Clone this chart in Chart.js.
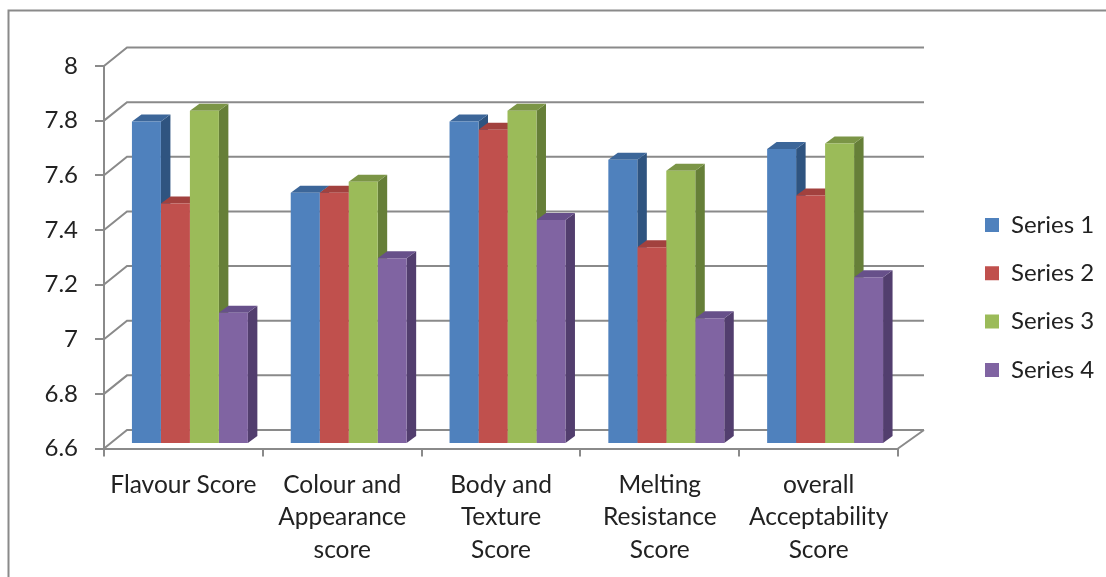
<!DOCTYPE html>
<html>
<head>
<meta charset="utf-8">
<title>Scores</title>
<script src="https://cdn.jsdelivr.net/npm/chart.js@4"></script>
<style>
  html, body { margin: 0; padding: 0; background: #fff; overflow: hidden; }
  canvas { display: block; }
</style>
</head>
<body>
<canvas id="chart" width="1106" height="577"></canvas>
<script>
const categories = [
  ['Flavour Score'],
  ['Colour and', 'Appearance', 'score'],
  ['Body and', 'Texture', 'Score'],
  ['Melting', 'Resistance', 'Score'],
  ['overall', 'Acceptability', 'Score']
];
const series1 = [7.78, 7.52, 7.78, 7.64, 7.68];
const series2 = [7.48, 7.52, 7.75, 7.32, 7.51];
const series3 = [7.82, 7.56, 7.82, 7.60, 7.70];
const series4 = [7.08, 7.28, 7.42, 7.06, 7.21];
const names = ['Series 1', 'Series 2', 'Series 3', 'Series 4'];
const values = [series1, series2, series3, series4];
const axisMin = 6.6, axisMax = 8, axisStep = 0.2;

const front = ['#4f81bd', '#c0504d', '#9bbb59', '#8064a2'];
const side  = ['#2f5480', '#8a3533', '#667f38', '#523e6e'];
const top3d = ['#3c6699', '#a2413e', '#7b9546', '#67508a'];

const gridColor = '#8a8a8a';
const textColor = '#222';
const font = 'Lato, Carlito, sans-serif';

// depth of the box behind the axes, and where the bars stand inside it
const wall = { x: 23, y: -18.5 };
const barShift = { x: 6.5, y: -4.5 };
const barDepth = { x: 9.5, y: -7 };

function poly(ctx, pts, color) {
  ctx.fillStyle = color;
  ctx.beginPath();
  pts.forEach((p, i) => i ? ctx.lineTo(p[0], p[1]) : ctx.moveTo(p[0], p[1]));
  ctx.closePath();
  ctx.fill();
}

const box3d = {
  id: 'box3d',
  beforeDraw(chart) {
    // outer frame, runs off the right and bottom of the picture
    const ctx = chart.ctx;
    ctx.save();
    ctx.strokeStyle = gridColor;
    ctx.lineWidth = 2;
    ctx.beginPath();
    ctx.moveTo(8.5, 577);
    ctx.lineTo(8.5, 10.5);
    ctx.lineTo(1106, 10.5);
    ctx.stroke();
    ctx.restore();
  },
  afterLayout(chart) {
    // legend sits in the gap right of the plot
    const lg = chart.legend;
    lg.left = 985 - lg.options.labels.padding;
    lg.right = lg.left + lg.width;
    lg.top = 188.7;
    lg.bottom = lg.top + lg.height;
  },
  beforeDatasetsDraw(chart) {
    const ctx = chart.ctx, a = chart.chartArea, y = chart.scales.y;
    ctx.save();
    ctx.strokeStyle = gridColor;
    ctx.lineWidth = 2;
    ctx.beginPath();
    y.ticks.forEach((t, i) => {
      const py = y.getPixelForTick(i);
      ctx.moveTo(a.left, py);
      ctx.lineTo(a.left + wall.x, py + wall.y);
      ctx.lineTo(a.right + wall.x + 3, py + wall.y);
    });
    // floor right edge
    ctx.moveTo(a.right, a.bottom);
    ctx.lineTo(a.right + wall.x + 3, a.bottom + wall.y);
    ctx.stroke();
    ctx.restore();

    // bars stand inside the box, so everything below is shifted
    ctx.save();
    ctx.translate(barShift.x, barShift.y);
    const metas = chart.getSortedVisibleDatasetMetas();
    categories.forEach((c, i) => {
      metas.forEach((m, s) => {
        const b = m.data[i];
        const l = b.x - b.width / 2, r = b.x + b.width / 2;
        const dx = barDepth.x, dy = barDepth.y;
        poly(ctx, [[r, b.y], [r + dx, b.y + dy], [r + dx, b.base + dy], [r, b.base]], side[s]);
        poly(ctx, [[l, b.y], [l + dx, b.y + dy], [r + dx, b.y + dy], [r, b.y]], top3d[s]);
      });
    });
  },
  afterDatasetsDraw(chart) {
    chart.ctx.restore();
  }
};

new Chart(document.getElementById('chart'), {
  type: 'bar',
  data: {
    labels: categories,
    datasets: names.map((n, i) => ({
      label: n,
      data: values[i],
      base: axisMin,
      backgroundColor: front[i],
      borderWidth: 0,
      categoryPercentage: 0.73,
      barPercentage: 1,
      clip: false
    }))
  },
  plugins: [box3d],
  options: {
    responsive: false,
    animation: false,
    devicePixelRatio: 1,
    layout: { padding: { left: 0, top: 66, right: 208, bottom: 0 } },
    plugins: {
      tooltip: { enabled: false },
      legend: {
        position: 'chartArea',
        align: 'start',
        labels: {
          boxWidth: 14,
          boxHeight: 14,
          padding: 24.3,
          color: textColor,
          font: { family: font, size: 24 }
        }
      }
    },
    scales: {
      x: {
        afterFit(s) { s.height = 128.5; },
        grid: { drawOnChartArea: false, color: gridColor, lineWidth: 2, tickLength: 8 },
        border: { color: gridColor, width: 2 },
        ticks: {
          color: textColor,
          maxRotation: 0,
          autoSkip: false,
          padding: 12,
          font: { family: font, size: 24.5, lineHeight: 1.327 }
        }
      },
      y: {
        min: axisMin,
        max: axisMax,
        afterFit(s) { s.width = 104; },
        grid: { drawOnChartArea: false, color: gridColor, lineWidth: 2, tickLength: 9 },
        border: { color: gridColor, width: 2 },
        ticks: {
          stepSize: axisStep,
          color: textColor,
          padding: 17,
          font: { family: font, size: 24 },
          callback: v => String(+v.toFixed(1))
        }
      }
    }
  }
});
</script>
</body>
</html>
